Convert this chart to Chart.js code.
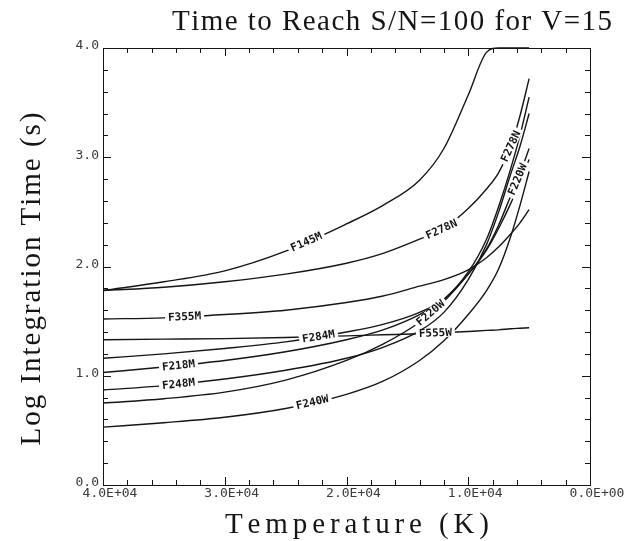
<!DOCTYPE html>
<html lang="en">
<head>
  <meta charset="UTF-8" />
  <title>Time to Reach S/N=100 for V=15</title>
  <script src="https://cdn.jsdelivr.net/npm/chart.js"></script>
  <style>
    body {
      margin: 0;
      background: #ffffff;
    }
    #chart {
      display: block;
    }
  </style>
</head>
<body>
  <canvas id="chart" width="626" height="541"></canvas>

  <script>
    // temperatures (K) the curves were read at
    const tempK = [40000, 35000, 30000, 25000, 20000, 17000, 14000, 12000, 10000, 8500, 7500, 6500, 5750, 5000];

    // log integration time (s) per filter
    const f145m = [1.78, 1.86, 1.96, 2.14, 2.39, 2.56, 2.79, 3.08, 3.57, 3.96, 4.0, 4.0, 4.0, 4.0];
    const f278n = [1.78, 1.81, 1.86, 1.93, 2.03, 2.12, 2.25, 2.35, 2.53, 2.71, 2.86, 3.10, 3.38, 3.72];
    const f355m = [1.52, 1.53, 1.56, 1.60, 1.67, 1.73, 1.82, 1.88, 1.97, 2.08, 2.18, 2.30, 2.40, 2.52];
    const f555w = [1.33, 1.335, 1.34, 1.35, 1.365, 1.375, 1.385, 1.395, 1.405, 1.415, 1.42, 1.43, 1.435, 1.44];
    const f284m = [1.16, 1.20, 1.25, 1.31, 1.40, 1.47, 1.58, 1.70, 1.93, 2.15, 2.35, 2.58, 2.78, 2.98];
    const f218m = [1.03, 1.08, 1.14, 1.22, 1.33, 1.42, 1.56, 1.70, 1.95, 2.25, 2.55, 2.90, 3.20, 3.55];
    const f248m = [0.87, 0.91, 0.97, 1.05, 1.16, 1.26, 1.41, 1.58, 1.88, 2.20, 2.50, 2.85, 3.10, 3.40];
    const f220w = [0.75, 0.79, 0.85, 0.96, 1.14, 1.29, 1.49, 1.68, 1.93, 2.16, 2.38, 2.65, 2.85, 3.08];
    const f240w = [0.53, 0.57, 0.62, 0.70, 0.83, 0.95, 1.14, 1.32, 1.56, 1.78, 1.98, 2.28, 2.56, 2.87];

    const filterNames = ['F145M', 'F278N', 'F355M', 'F284M', 'F218M', 'F248M', 'F220W', 'F240W', 'F555W'];
    const filterSeries = [f145m, f278n, f355m, f284m, f218m, f248m, f220w, f240w, f555w];

    // axis ticks
    const xMajor = [40000, 30000, 20000, 10000, 0];
    const xTickText = ['4.0E+04', '3.0E+04', '2.0E+04', '1.0E+04', '0.0E+00'];
    const yMajor = [0, 1, 2, 3, 4];
    const yTickText = ['0.0', '1.0', '2.0', '3.0', '4.0'];

    // where along each curve (in K) the filter name is written
    const labelAt = {
      F145M: [23300],
      F278N: [12200, 6500],
      F355M: [33300],
      F555W: [12700],
      F284M: [22300],
      F218M: [33800],
      F248M: [33800],
      F220W: [13100, 5950],
      F240W: [22800]
    };

    const ink = '#151515';

    // draw text stretched to a given width
    function spacedText(ctx, text, cx, cy, width) {
      let natural = 0;
      for (const ch of text) natural += ctx.measureText(ch).width;
      const gap = (width - natural) / (text.length - 1);
      let x = cx - width / 2;
      ctx.textAlign = 'left';
      for (const ch of text) {
        ctx.fillText(ch, x, cy);
        x += ctx.measureText(ch).width + gap;
      }
    }

    const framePlugin = {
      id: 'frame',
      afterDraw(chart) {
        const ctx = chart.ctx;
        const a = chart.chartArea;
        const xs = chart.scales.x;
        const ys = chart.scales.y;
        ctx.save();
        ctx.strokeStyle = ink;
        ctx.lineWidth = 1;
        ctx.strokeRect(a.left + 0.5, a.top + 0.5, a.right - a.left, a.bottom - a.top);

        // inward ticks on all four sides
        ctx.beginPath();
        for (let t = 0; t <= 40000; t += 2000) {
          const px = Math.round(xs.getPixelForValue(t)) + 0.5;
          const len = t % 10000 === 0 ? 8 : 5;
          ctx.moveTo(px, a.bottom); ctx.lineTo(px, a.bottom - len);
          ctx.moveTo(px, a.top); ctx.lineTo(px, a.top + len);
        }
        for (let i = 0; i <= 20; i++) {
          const v = i * 0.2;
          const py = Math.round(ys.getPixelForValue(v)) + 0.5;
          const len = i % 5 === 0 ? 8 : 5;
          ctx.moveTo(a.left, py); ctx.lineTo(a.left + len, py);
          ctx.moveTo(a.right, py); ctx.lineTo(a.right - len, py);
        }
        ctx.stroke();

        // tick labels
        ctx.fillStyle = '#3a3a3a';
        ctx.font = '13px "DejaVu Sans Mono"';
        ctx.textBaseline = 'middle';
        ctx.textAlign = 'right';
        yMajor.forEach((v, i) => {
          ctx.fillText(yTickText[i], a.left - 4, ys.getPixelForValue(v) - 2);
        });
        ctx.textAlign = 'center';
        xMajor.forEach((v, i) => {
          ctx.fillText(xTickText[i], xs.getPixelForValue(v) + 7, a.bottom + 9);
        });

        // titles
        ctx.fillStyle = ink;
        ctx.font = '29px "Liberation Serif"';
        ctx.textBaseline = 'alphabetic';
        spacedText(ctx, 'Time to Reach S/N=100 for V=15', 392, 30, 440);
        spacedText(ctx, 'Temperature (K)', 357, 533, 264);
        ctx.save();
        ctx.translate(40, 279);
        ctx.rotate(-Math.PI / 2);
        spacedText(ctx, 'Log Integration Time (s)', 0, 0, 333);
        ctx.restore();
        ctx.restore();
      }
    };

    const curveLabelPlugin = {
      id: 'curveLabels',
      afterDatasetsDraw(chart) {
        const ctx = chart.ctx;
        ctx.save();
        ctx.font = 'bold 11px "DejaVu Sans Mono"';
        ctx.textAlign = 'center';
        ctx.textBaseline = 'middle';
        chart.data.datasets.forEach((ds, di) => {
          const pts = chart.getDatasetMeta(di).data;
          (labelAt[ds.label] || []).forEach(T => {
            let i = 0;
            while (i < tempK.length - 2 && tempK[i + 1] > T) i++;
            const f = (tempK[i] - T) / (tempK[i] - tempK[i + 1]);
            const p0 = pts[i], p1 = pts[i + 1];
            const x = p0.x + (p1.x - p0.x) * f;
            const y = p0.y + (p1.y - p0.y) * f;
            const ang = Math.atan2(p1.y - p0.y, p1.x - p0.x);
            const w = ctx.measureText(ds.label).width;
            ctx.save();
            ctx.translate(x, y);
            ctx.rotate(ang);
            ctx.fillStyle = '#ffffff';
            ctx.fillRect(-w / 2 - 3, -4.5, w + 6, 9);
            ctx.fillStyle = ink;
            ctx.fillText(ds.label, 0, 0.5);
            ctx.restore();
          });
        });
        ctx.restore();
      }
    };

    const datasets = filterNames.map((name, k) => ({
      label: name,
      data: tempK.map((t, i) => ({ x: t, y: filterSeries[k][i] })),
      borderColor: ink,
      borderWidth: 1.4,
      pointRadius: 0,
      fill: false,
      cubicInterpolationMode: 'monotone',
      clip: 2
    }));

    new Chart(document.getElementById('chart').getContext('2d'), {
      type: 'line',
      data: { datasets },
      options: {
        responsive: false,
        animation: false,
        layout: { padding: { left: 103, right: 36, top: 48, bottom: 56 } },
        plugins: {
          legend: { display: false },
          tooltip: { enabled: false }
        },
        scales: {
          x: { type: 'linear', reverse: true, min: 0, max: 40000, display: false },
          y: { type: 'linear', min: 0, max: 4, display: false }
        }
      },
      plugins: [framePlugin, curveLabelPlugin]
    });
  </script>
</body>
</html>
